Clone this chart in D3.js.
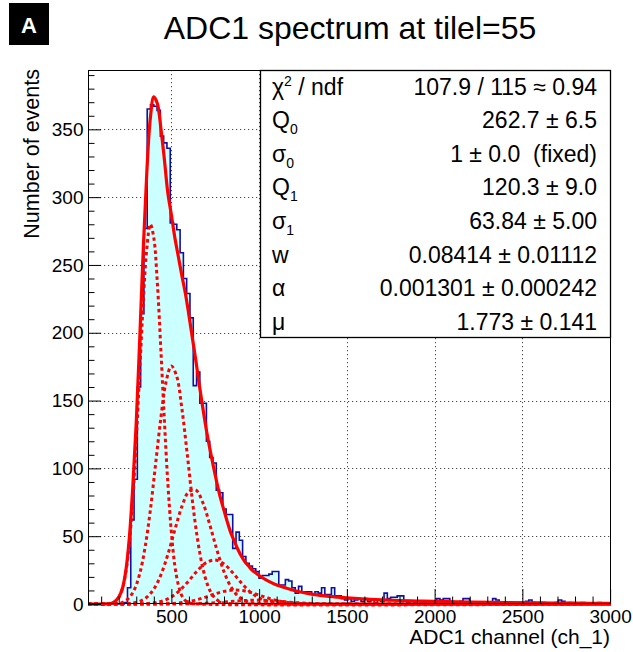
<!DOCTYPE html>
<html><head><meta charset="utf-8">
<script src="https://cdn.jsdelivr.net/npm/d3@7"></script>
<style>
body{margin:0;background:#fff}
svg{display:block}
text{font-family:"Liberation Sans",Arial,Helvetica,sans-serif;fill:#000}
</style>
</head><body>
<svg id="c" width="633" height="652"></svg>
<script>
// ---------- data ----------
const xMin = 25, xMax = 3005, nBins = 159, yMax = 393.75;
const counts = [
  0,0,0,0,0,0,0,0,0,0,
  0,1,12,62,92,160,214,277,365,368,
  367,364,345,340,336,281,280,276,259,240,
  229,211,161,171,148,148,120,108,104,84,
  82,70,66,66,41,53,47,35,30,28,
  26,24,19,21,21,22,24,24,14,14,
  18,17,12,8,13,9,9,9,7,9,
  8,12,7,7,12,6,6,4,3,4,
  2,3,4,2,4,2,3,1,3,2,
  8,4,5,5,6,6,2,1,2,1,
  2,1,1,0,1,2,4,3,4,4,
  1,0,1,2,4,4,1,0,1,0,
  1,0,1,4,3,0,1,0,0,1,
  0,1,0,2,3,1,0,0,1,0,
  0,0,1,3,2,0,1,0,0,0,
  1,0,0,0,0,1,0,0,0
];
const totalX = [25,100,160,180,200,220,240,260,280,300,320,340,360,380,400,420,440,460,480,500,520,540,560,580,600,620,640,660,680,700,720,740,760,780,800,820,840,860,880,900,920,940,960,980,1000,1050,1100,1150,1200,1250,1300,1400,1500,1600,1700,1800,1900,2000,2200,2400,2600,2800,3005];
const totalY = [0,0,0.5,2,5,11,24,48,86,134,196,262,318,358,374,369,351,328,303,287,270,256,242,229,213,196,179,161,144,128,114,101,89,78,69,60,52,46,40,35,31,28,25,23,21,17,14,12,10,8.5,7.3,5.6,4.5,3.7,3.1,2.6,2.2,1.9,1.4,1.1,0.8,0.6,0.5];
const comp1X = [25,160,180,200,220,240,260,280,300,320,340,360,380,400,420,440,460,480,500,520,540,560,580,600,640,3005];
const comp1Y = [0,0.4,1.8,4.7,10.9,23,44,77,121,172,223,262,280,270,237,188,136,89,53,28,14,6,2.5,0.9,0.1,0];
const comp2X = [25,200,230,260,290,320,350,380,410,440,470,500,530,560,590,620,650,680,710,740,770,800,850,3005];
const comp2Y = [0,0.5,1.8,4.7,10.8,22.4,41.6,69,103,137,164,175.5,168,144,111,76,47,26,12.8,5.7,2.2,0.8,0.2,0];
const comp3X = [25,240,280,320,360,400,440,480,520,560,600,640,680,720,760,800,840,880,920,960,1000,1050,3005];
const comp3Y = [0,0.2,0.7,2,5,11,21.4,36.5,54.7,71.9,82.9,83.9,74.5,58,39.6,23.8,12.5,5.8,2.3,0.8,0.3,0.1,0];
const comp4X = [25,300,350,400,450,500,550,600,650,700,750,800,850,900,950,1000,1050,1100,1150,1200,3005];
const comp4Y = [0,0.1,0.3,0.9,2.3,5.2,10.3,17.2,24.8,30.6,32.5,29.5,23,15.4,8.8,4.4,1.8,0.7,0.2,0.05,0];
const comp5X = [25,400,450,500,550,600,650,700,750,800,850,900,950,1000,1050,1100,1150,1200,1250,1300,1350,3005];
const comp5Y = [0,0.05,0.15,0.4,0.9,1.85,3.3,5.3,7.5,9.3,10.25,10,8.6,6.5,4.4,2.6,1.4,0.65,0.27,0.1,0.03,0];
const comp6X = [25,500,600,700,800,900,1000,1100,1200,1300,1400,1500,3005];
const comp6Y = [0,0.02,0.14,0.54,1.4,2.4,2.79,2.13,1.08,0.37,0.08,0.01,0];
const xMajor = [500,1000,1500,2000,2500,3000];
const yMajor = [0,50,100,150,200,250,300,350];
const statLabels = [
  {t:"χ", sup:"2", rest:" / ndf"},
  {t:"Q", sub:"0"}, {t:"σ", sub:"0"}, {t:"Q", sub:"1"}, {t:"σ", sub:"1"},
  {t:"w"}, {t:"α"}, {t:"μ"}
];
const statValues = ["107.9 / 115 \u2248 0.94","262.7 \u00b1 6.5","1 \u00b1 0.0  (fixed)","120.3 \u00b1 9.0","63.84 \u00b1 5.00","0.08414 \u00b1 0.01112","0.001301 \u00b1 0.000242","1.773 \u00b1 0.141"];
const title = "ADC1 spectrum at tilel=55";
const xTitle = "ADC1 channel (ch_1)";
const yTitle = "Number of events";

// ---------- layout ----------
const F = {l:88, r:611, t:70, b:604};
const svg = d3.select("#c");
const x = d3.scaleLinear().domain([xMin, xMax]).range([F.l, F.r]);
const y = d3.scaleLinear().domain([0, yMax]).range([F.b, F.t]);

svg.append("defs").append("clipPath").attr("id","clip")
  .append("rect").attr("x",F.l).attr("y",F.t).attr("width",F.r-F.l).attr("height",F.b-F.t+3);

// grid
const grid = svg.append("g").attr("stroke","#444").attr("stroke-width",1).attr("stroke-dasharray","1.2,2.8");
grid.selectAll("line.gx").data(xMajor).join("line")
  .attr("x1",d=>Math.round(x(d))+0.5).attr("x2",d=>Math.round(x(d))+0.5).attr("y1",F.t).attr("y2",F.b);
grid.selectAll("line.gy").data(yMajor.filter(d=>d>0)).join("line")
  .attr("y1",d=>Math.round(y(d))+0.5).attr("y2",d=>Math.round(y(d))+0.5).attr("x1",F.l).attr("x2",F.r);

// histogram
const bw = (xMax - xMin) / nBins;
const histPts = counts.map((c,i)=>({lo: xMin + i*bw, c}));
histPts.push({lo: xMax, c: counts[counts.length-1]});
const plot = svg.append("g").attr("clip-path","url(#clip)");
plot.append("path").datum(histPts)
  .attr("d", d3.area().curve(d3.curveStepAfter).x(d=>x(d.lo)).y0(y(0)).y1(d=>y(d.c)))
  .attr("fill","#ccffff").attr("stroke","none");
plot.append("path").datum(histPts)
  .attr("d", d3.line().curve(d3.curveStepAfter).x(d=>x(d.lo)).y(d=>y(d.c)))
  .attr("fill","none").attr("stroke","#1010a0").attr("stroke-width",1.6);

// fit components
const line = d3.line().curve(d3.curveCatmullRom.alpha(0.5)).x(d=>x(d[0])).y(d=>y(d[1]));
const comps = [[comp1X,comp1Y],[comp2X,comp2Y],[comp3X,comp3Y],[comp4X,comp4Y],[comp5X,comp5Y],[comp6X,comp6Y]];
comps.forEach(([cx,cy])=>{
  plot.append("path").datum(cx.map((v,i)=>[v,cy[i]]))
    .attr("d", line).attr("fill","none").attr("stroke","#ff0000")
    .attr("stroke-width",3).attr("stroke-dasharray","3.5,3");
});
plot.append("path").datum(totalX.map((v,i)=>[v,totalY[i]]))
  .attr("d", line).attr("fill","none").attr("stroke","#ff0000").attr("stroke-width",3.2).attr("stroke-linejoin","round");

// frame
svg.append("rect").attr("x",F.l+0.5).attr("y",F.t+0.5).attr("width",F.r-F.l-1).attr("height",F.b-F.t-1)
  .attr("fill","none").attr("stroke","#000").attr("stroke-width",1);

// axes
const fontTick = 19;
const xMinor = d3.range(100, 3001, 100).filter(d=>xMajor.indexOf(d)<0);
const gxm = svg.append("g").attr("transform",`translate(0,${F.b})`)
  .call(d3.axisBottom(x).tickValues(xMinor).tickSize(-7.5).tickFormat(""));
const gx = svg.append("g").attr("transform",`translate(0,${F.b})`)
  .call(d3.axisBottom(x).tickValues(xMajor).tickSize(-15).tickPadding(5.5).tickFormat(d3.format("d")));
gx.selectAll("text").attr("font-size",fontTick).attr("font-family",null).style("fill","#000");
const yMinor = d3.range(10, 391, 10).filter(d=>yMajor.indexOf(d)<0);
const gym = svg.append("g").attr("transform",`translate(${F.l},0)`)
  .call(d3.axisLeft(y).tickValues(yMinor).tickSize(-6.5).tickFormat(""));
const gy = svg.append("g").attr("transform",`translate(${F.l},0)`)
  .call(d3.axisLeft(y).tickValues(yMajor).tickSize(-13).tickPadding(4.5).tickFormat(d3.format("d")));
gy.selectAll("text").attr("font-size",fontTick).attr("font-family",null).style("fill","#000");
[gxm,gx,gym,gy].forEach(g=>{ g.select(".domain").remove(); g.selectAll("line").attr("stroke","#000"); });

// titles
svg.append("text").attr("x",610).attr("y",644).attr("text-anchor","end").attr("font-size",21).text(xTitle);
svg.append("text").attr("transform","translate(39,69) rotate(-90)").attr("text-anchor","end").attr("font-size",21.5).text(yTitle);
svg.append("text").attr("x",350).attr("y",39).attr("text-anchor","middle").attr("font-size",32).text(title);
svg.append("rect").attr("x",9).attr("y",3).attr("width",40).attr("height",42).attr("fill","#000");
svg.append("text").attr("x",29).attr("y",32.5).attr("text-anchor","middle").attr("font-size",22).attr("font-weight","bold").style("fill","#fff").text("A");

// stats box
const SB = {l:260, t:70, r:611, b:337};
svg.append("rect").attr("x",SB.l+0.5).attr("y",SB.t+0.5).attr("width",SB.r-SB.l-1).attr("height",SB.b-SB.t)
  .attr("fill","#fff").attr("stroke","#000").attr("stroke-width",1.3);
const rowH = 33.6, row0 = 94.5, fs = 23;
statLabels.forEach((L,i)=>{
  const t = svg.append("text").attr("x",272).attr("y",row0+i*rowH).attr("font-size",fs);
  t.append("tspan").text(L.t);
  if (L.sup) t.append("tspan").attr("font-size",14).attr("dy",-9).text(L.sup);
  if (L.sub) t.append("tspan").attr("font-size",14).attr("dy",6).text(L.sub);
  if (L.rest) t.append("tspan").attr("dy",9).text(L.rest);
});
svg.selectAll("text.sv").data(statValues).join("text").attr("class","sv")
  .attr("x",597).attr("y",(d,i)=>row0+i*rowH).attr("text-anchor","end").attr("font-size",fs)
  .style("white-space","pre").attr("xml:space","preserve").text(d=>d);
</script>
</body></html>
